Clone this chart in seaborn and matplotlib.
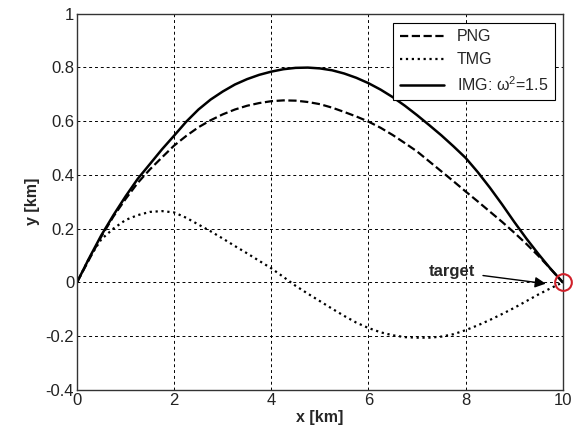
import numpy as np
import pandas as pd
import matplotlib
matplotlib.use("Agg")
import matplotlib.pyplot as plt
import seaborn as sns

x_vals = [0, 0.25, 0.5, 0.75, 1, 1.25, 1.5, 1.75, 2,
          2.25, 2.5, 2.75, 3, 3.25, 3.5, 3.75, 4,
          4.25, 4.5, 4.75, 5, 5.25, 5.5, 5.75, 6,
          6.25, 6.5, 6.75, 7, 7.25, 7.5, 7.75, 8,
          8.25, 8.5, 8.75, 9, 9.25, 9.5, 9.75, 10]
img_y = [0, 0.09, 0.175, 0.25, 0.32, 0.385, 0.44, 0.495, 0.546,
         0.598, 0.643, 0.68, 0.71, 0.736, 0.756, 0.772, 0.784,
         0.793, 0.798, 0.799, 0.796, 0.789, 0.777, 0.761, 0.741,
         0.717, 0.689, 0.657, 0.622, 0.585, 0.547, 0.506, 0.463,
         0.41, 0.352, 0.29, 0.225, 0.163, 0.105, 0.05, 0.0]
png_y = [0, 0.085, 0.17, 0.245, 0.31, 0.37, 0.42, 0.465, 0.509,
         0.545, 0.577, 0.603, 0.625, 0.643, 0.657, 0.667, 0.674,
         0.677, 0.676, 0.671, 0.663, 0.65, 0.634, 0.617, 0.598,
         0.575, 0.548, 0.518, 0.487, 0.45, 0.413, 0.376, 0.338,
         0.301, 0.263, 0.225, 0.185, 0.143, 0.098, 0.05, 0.0]
tmg_y = [0, 0.09, 0.16, 0.2, 0.232, 0.25, 0.262, 0.265, 0.26,
         0.24, 0.215, 0.19, 0.163, 0.135, 0.108, 0.08, 0.052,
         0.02, -0.013, -0.042, -0.07, -0.098, -0.125, -0.15, -0.17,
         -0.186, -0.197, -0.204, -0.206, -0.206, -0.202, -0.193, -0.178,
         -0.16, -0.14, -0.118, -0.095, -0.07, -0.045, -0.022, 0.0]
labels = ["PNG", "TMG", "IMG: ω$^2$=1.5"]
styles = ["--", ":", "-"]
x_ticks = [0, 2, 4, 6, 8, 10]
y_ticks = [-0.4, -0.2, 0, 0.2, 0.4, 0.6, 0.8, 1]
y_tick_labels = ["-0.4", "-0.2", "0", "0.2", "0.4", "0.6", "0.8", "1"]

sns.set_style("white")
plt.rcParams['font.family'] = ['Liberation Sans', 'DejaVu Sans']
plt.rcParams['mathtext.fontset'] = 'custom'
plt.rcParams['mathtext.rm'] = 'Liberation Sans'
plt.rcParams['mathtext.it'] = 'Liberation Sans:italic'
plt.rcParams['mathtext.default'] = 'regular'

fig = plt.figure(figsize=(5.79, 4.38), dpi=100)
ax = fig.add_axes([0.133, 0.110, 0.839, 0.859])

for ys, lab, ls in zip([png_y, tmg_y, img_y], labels, styles):
    df = pd.DataFrame({"x": x_vals, "y": ys})
    sns.lineplot(data=df, x="x", y="y", ax=ax, color="black", linestyle=ls,
                 linewidth=1.6 if ls != "-" else 1.8, label=lab)

ax.plot([10], [0], marker="o", markersize=12, markerfacecolor="none",
        markeredgecolor="#d0202a", markeredgewidth=1.5, linestyle="none", clip_on=False, zorder=5)
ax.annotate("target", xy=(9.65, -0.005), xytext=(7.25, 0.04),
            fontsize=12, fontweight="bold", va="center",
            arrowprops=dict(arrowstyle="-|>", color="black", lw=1.0, mutation_scale=16,
                            shrinkA=3, shrinkB=0))

ax.set_xlim(0, 10)
ax.set_ylim(-0.4, 1)
ax.set_xticks(x_ticks)
ax.set_yticks(y_ticks)
ax.set_yticklabels(y_tick_labels)
ax.grid(True, color="black", linestyle=(0, (3, 3)), linewidth=0.7)
ax.tick_params(direction="in", labelsize=12, length=5, colors="#333333", labelcolor="#222222", pad=2)
for sp in ax.spines.values():
    sp.set_color("#333333")
    sp.set_linewidth(1.0)
ax.set_xlabel("x [km]", fontsize=11.5, fontweight="bold", labelpad=2)
ax.set_ylabel("y [km]", fontsize=11.5, fontweight="bold", labelpad=4)

leg = ax.legend(loc="upper right", fontsize=11.5, fancybox=False, framealpha=1,
                edgecolor="black", handlelength=2.8, borderpad=0.4, labelspacing=0.5,
                borderaxespad=0, bbox_to_anchor=(0.9835, 0.975))
leg.get_frame().set_linewidth(0.8)

fig.savefig("out.png", dpi=100)
